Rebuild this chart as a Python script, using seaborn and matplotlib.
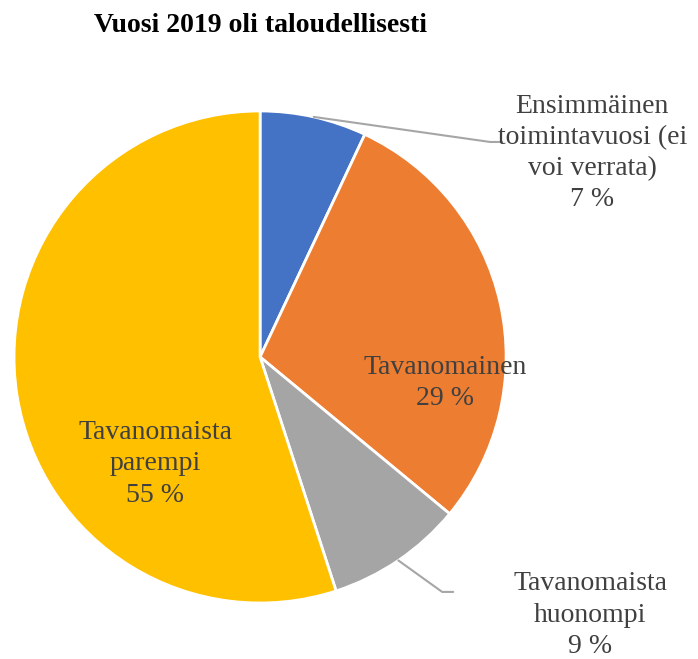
import numpy as np
import seaborn as sns
import matplotlib.pyplot as plt

sns.set_style("white")
plt.rcParams['font.family'] = ['Liberation Serif', 'DejaVu Serif']

# data
labels = ['Ensimmäinen\ntoimintavuosi (ei\nvoi verrata)', 'Tavanomainen',
          'Tavanomaista\nhuonompi', 'Tavanomaista\nparempi']
shares = [7, 29, 9, 55]
colors = ['#4472C4', '#ED7D31', '#A5A5A5', '#FFC000']
title = 'Vuosi 2019 oli taloudellisesti'

fig = plt.figure(figsize=(6.98, 6.59), dpi=100)
ax = fig.add_axes([0.0201, 0.085, 0.705, 0.7466])

ax.pie(shares, colors=colors, startangle=90, counterclock=False,
       wedgeprops=dict(edgecolor='white', linewidth=2), radius=1)
ax.set_xlim(-1, 1)
ax.set_ylim(-1, 1)
ax.set_aspect('auto')
ax.axis('off')

txt_color = '#404040'
# label positions (data coords) and leader elbows
pos = [(1.35, 0.829), (0.752, -0.106), (1.341, -1.049), (-0.427, -0.435)]
elbows = {0: [(0.935, 0.874), (0.984, 0.874)], 2: [(0.740, -0.955), (0.785, -0.955)]}

cum = np.cumsum([0] + shares)
total = sum(shares)
for i, (lab, v) in enumerate(zip(labels, shares)):
    ax.text(pos[i][0], pos[i][1], f'{lab}\n{v} %', ha='center', va='center',
            fontsize=20, color=txt_color, linespacing=1.32)
    if i in elbows:
        mid = (cum[i] + v / 2) / total
        ang = np.deg2rad(90 - 360 * mid)
        xs = [np.cos(ang)] + [p[0] for p in elbows[i]]
        ys = [np.sin(ang)] + [p[1] for p in elbows[i]]
        ax.plot(xs, ys, color='#A6A6A6', lw=1.5, clip_on=False)

fig.text(0.3725, 0.962, title, ha='center', va='center', fontsize=20,
         fontweight='bold', color='black')

fig.savefig('out.png', dpi=100)
